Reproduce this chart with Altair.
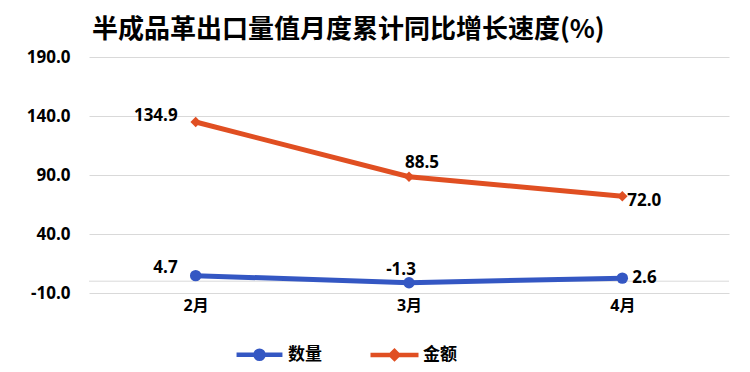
import altair as alt
import pandas as pd

months = ["2月", "3月", "4月"]
qty = [4.7, -1.3, 2.6]
amount = [134.9, 88.5, 72.0]
series_names = ["数量", "金额"]
series_colors = ["#3457C3", "#E04F22"]
y_ticks = [-10, 40, 90, 140, 190]
zero_line = [0]

rows = []
for m, q, a in zip(months, qty, amount):
    rows.append({"month": m, "series": series_names[0], "value": q, "label": f"{q:.1f}"})
    rows.append({"month": m, "series": series_names[1], "value": a, "label": f"{a:.1f}"})
df = pd.DataFrame(rows)

NUM_FONT = "Open Sans, Noto Sans CJK SC"
CJK_FONT = "Noto Sans CJK SC"

y_scale = alt.Scale(domain=[-10, 190], nice=False, zero=False)

x_enc = alt.X("month:N", sort=months,
              scale=alt.Scale(type="point", padding=0.5),
              axis=alt.Axis(title=None, labelAngle=0, domain=False, ticks=False,
                            grid=False, labelFont=NUM_FONT, labelFontSize=16,
                            labelFontWeight="bold", labelColor="#000000",
                            labelPadding=4))
y_enc = alt.Y("value:Q", scale=y_scale,
              axis=alt.Axis(title=None, values=y_ticks, domain=False,
                            labelExpr="datum.value < 0 ? '-' + format(-datum.value, '.1f') : format(datum.value, '.1f')",
                            ticks=False, grid=True, gridColor="#D9D9D9", gridWidth=1,
                            labelFont=NUM_FONT, labelFontSize=17, labelFontWeight="bold",
                            labelColor="#000000", labelPadding=19))

# legend symbols: a line with a marker in the middle
circle_path = "M-1.53,0H1.53M-0.27,0A0.27,0.27,0,1,0,0.27,0A0.27,0.27,0,1,0,-0.27,0Z"
diamond_path = "M-1.6,0H1.6M-0.25,0L0,-0.25L0.25,0L0,0.25Z"

legend_cfg = alt.Legend(
    title=None, orient="none", legendX=153, legendY=280,
    direction="horizontal", symbolSize=900, symbolStrokeWidth=4.5,
    symbolType={"expr": f"datum.value === '{series_names[0]}' ? '{circle_path}' : '{diamond_path}'"},
    symbolStrokeColor={"expr": f"datum.value === '{series_names[0]}' ? '{series_colors[0]}' : '{series_colors[1]}'"},
    symbolOpacity=1,
    labelFont=CJK_FONT, labelFontSize=17, labelFontWeight="bold",
    labelColor="#000000", columnPadding=39, labelOffset=11, padding=0)

color_scale = alt.Scale(domain=series_names, range=series_colors)
color_enc = alt.Color("series:N", scale=color_scale, legend=legend_cfg)

base = alt.Chart(df)

zero = alt.Chart(pd.DataFrame({"value": zero_line})).mark_rule(color="#D9D9D9", strokeWidth=1).encode(
    y=y_enc
)

def line_layer(i):
    return base.transform_filter(alt.datum.series == series_names[i]).mark_line(
        strokeWidth=5, color=series_colors[i]).encode(x=x_enc, y=y_enc)

def point_layer(i, shape, size):
    return base.transform_filter(alt.datum.series == series_names[i]).mark_point(
        filled=True, opacity=1, size=size, shape=shape).encode(x=x_enc, y=y_enc, color=color_enc)

# label placement style per (series index, month)
label_styles = [
    (0, "2月", "right", -18, -8),
    (0, "3月", "center", -8, -13),
    (0, "4月", "left", 10, 0),
    (1, "2月", "right", -18, -6),
    (1, "3月", "center", 13, -14),
    (1, "4月", "left", 5, 5),
]

def label_layer(i, month, align, dx, dy):
    return base.transform_filter(
        (alt.datum.month == month) & (alt.datum.series == series_names[i])
    ).mark_text(
        align=align, baseline="middle", dx=dx, dy=dy, font=NUM_FONT, fontSize=17,
        fontWeight="bold", color="#000000"
    ).encode(x=x_enc, y=y_enc, text="label:N")

labels = [label_layer(*s) for s in label_styles]

chart = alt.layer(
    zero,
    line_layer(0), line_layer(1),
    point_layer(0, "circle", 130), point_layer(1, "diamond", 110),
    *labels,
).properties(
    width=640, height=236,
    title=alt.TitleParams("半成品革出口量值月度累计同比增长速度(%)", anchor="start", frame="group",
                          dx=3, offset=5, font=CJK_FONT, fontSize=26, fontWeight="bold",
                          color="#000000"),
    autosize=alt.AutoSizeParams(type="none"),
    padding={"left": 81, "top": 49, "right": 13, "bottom": 76},
).configure_view(stroke=None)

chart.save("out.html", embed_options={"renderer": "svg", "actions": False})
